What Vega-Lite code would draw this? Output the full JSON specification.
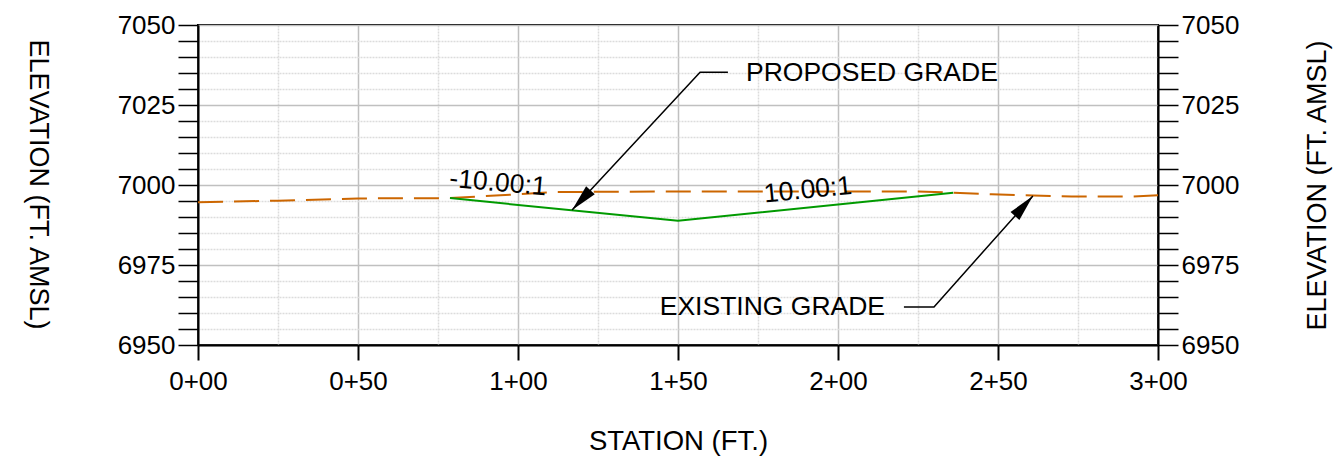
{
  "$schema": "https://vega.github.io/schema/vega-lite/v6.json",
  "width": 960,
  "height": 320,
  "autosize": "none",
  "padding": {"left": 198, "top": 25, "right": 175, "bottom": 121},
  "background": "white",
  "config": {
    "font": "Liberation Sans",
    "view": {"stroke": "black", "strokeWidth": 2},
    "text": {"font": "Liberation Sans", "fontSize": 26.5, "color": "black"}
  },
  "datasets": {
    "existing": [
      {"sta": 0, "elev": 6994.6},
      {"sta": 25, "elev": 6995.1},
      {"sta": 50, "elev": 6995.8},
      {"sta": 78.75, "elev": 6995.9},
      {"sta": 112, "elev": 6997.8},
      {"sta": 150, "elev": 6998.0},
      {"sta": 200, "elev": 6998.0},
      {"sta": 225, "elev": 6998.0},
      {"sta": 236, "elev": 6997.6},
      {"sta": 248, "elev": 6997.1},
      {"sta": 261, "elev": 6996.7},
      {"sta": 273, "elev": 6996.4},
      {"sta": 292, "elev": 6996.4},
      {"sta": 300, "elev": 6996.8}
    ],
    "proposed": [
      {"sta": 78.75, "elev": 6995.9},
      {"sta": 150, "elev": 6988.8},
      {"sta": 236, "elev": 6997.6}
    ],
    "leaders": [
      {"id": "p", "o": 1, "sta": 165.6, "elev": 7035.2},
      {"id": "p", "o": 2, "sta": 156.9, "elev": 7035.2},
      {"id": "p", "o": 3, "sta": 116.9, "elev": 6992.2},
      {"id": "e", "o": 1, "sta": 220.6, "elev": 6961.9},
      {"id": "e", "o": 2, "sta": 230, "elev": 6961.9},
      {"id": "e", "o": 3, "sta": 260.9, "elev": 6996.6}
    ],
    "tips": [
      {"id": "p", "sta": 116.9, "elev": 6992.2},
      {"id": "e", "sta": 260.9, "elev": 6996.6}
    ],
    "labels": [
      {"id": "p", "text": "PROPOSED GRADE", "sta": 171.25, "elev": 7035},
      {"id": "e", "text": "EXISTING GRADE", "sta": 214.7, "elev": 6961.9},
      {"id": "s1", "text": "-10.00:1", "sta": 93.75, "elev": 7000.6},
      {"id": "s2", "text": "10.00:1", "sta": 190.6, "elev": 6998.4}
    ]
  },
  "resolve": {"axis": {"y": "independent"}},
  "layer": [
    {
      "data": {"name": "existing"},
      "mark": {"type": "line", "color": "#cc6600", "strokeWidth": 2, "strokeDash": [25, 11]},
      "encoding": {
        "x": {
          "field": "sta", "type": "quantitative",
          "scale": {"domain": [0, 300], "nice": false, "zero": false},
          "axis": {
            "title": "STATION (FT.)",
            "values": [0, 25, 50, 75, 100, 125, 150, 175, 200, 225, 250, 275, 300],
            "labelExpr": "datum.value % 50 != 0 ? '' : floor(datum.value / 100) + '+' + (datum.value % 100 == 0 ? '00' : '' + (datum.value % 100))",
            "tickColor": {"condition": {"test": "datum.value % 50 != 0", "value": "transparent"}, "value": "black"},
            "tickSize": 15,
            "tickWidth": 2,
            "domainColor": "black",
            "domainWidth": 2,
            "grid": true,
            "gridColor": {"condition": {"test": "datum.value % 50 != 0", "value": "#dcdcdc"}, "value": "#c0c0c0"},
            "gridDash": {"condition": {"test": "datum.value % 50 != 0", "value": [2, 1]}, "value": []},
            "gridWidth": 1.5,
            "labelFontSize": 26,
            "labelColor": "black",
            "labelPadding": 8,
            "labelFlush": false,
            "labelOverlap": false,
            "labelBound": false,
            "titleFontSize": 27.5,
            "titleFontWeight": "normal",
            "titleColor": "black",
            "titleX": 480,
            "titleY": 96,
            "titleAlign": "center",
            "titleBaseline": "middle"
          }
        },
        "y": {
          "field": "elev", "type": "quantitative",
          "scale": {"domain": [6950, 7050], "nice": false, "zero": false},
          "axis": {
            "orient": "left",
            "title": "ELEVATION (FT. AMSL)",
            "values": [6950, 6955, 6960, 6965, 6970, 6975, 6980, 6985, 6990, 6995, 7000, 7005, 7010, 7015, 7020, 7025, 7030, 7035, 7040, 7045, 7050],
            "labelExpr": "datum.value % 25 == 0 ? '' + datum.value : ''",
            "tickSize": 20,
            "tickWidth": 1.5,
            "tickColor": "black",
            "domainColor": "black",
            "domainWidth": 2,
            "grid": true,
            "gridColor": {"condition": {"test": "datum.value % 25 != 0", "value": "#dcdcdc"}, "value": "#c0c0c0"},
            "gridDash": {"condition": {"test": "datum.value % 25 != 0", "value": [2, 1]}, "value": []},
            "gridWidth": 1.5,
            "labelFontSize": 26,
            "labelColor": "black",
            "labelPadding": 3,
            "labelOverlap": false,
            "labelBound": false,
            "labelFlush": false,
            "titleFontSize": 27,
            "titleFontWeight": "normal",
            "titleColor": "black",
            "titleAngle": 90,
            "titleX": -161,
            "titleY": 159,
            "titleAlign": "center",
            "titleBaseline": "middle"
          }
        }
      }
    },
    {
      "data": {"name": "proposed"},
      "mark": {"type": "line", "color": "#009a00", "strokeWidth": 2},
      "encoding": {
        "x": {"field": "sta", "type": "quantitative"},
        "y": {
          "field": "elev", "type": "quantitative",
          "axis": {
            "orient": "right",
            "title": "ELEVATION (FT. AMSL)",
            "values": [6950, 6955, 6960, 6965, 6970, 6975, 6980, 6985, 6990, 6995, 7000, 7005, 7010, 7015, 7020, 7025, 7030, 7035, 7040, 7045, 7050],
            "labelExpr": "datum.value % 25 == 0 ? '' + datum.value : ''",
            "tickSize": 20,
            "tickWidth": 1.5,
            "tickColor": "black",
            "domainColor": "black",
            "domainWidth": 2,
            "grid": false,
            "labelFontSize": 26,
            "labelColor": "black",
            "labelPadding": 3,
            "labelOverlap": false,
            "labelBound": false,
            "labelFlush": false,
            "titleFontSize": 27,
            "titleFontWeight": "normal",
            "titleColor": "black",
            "titleAngle": 270,
            "titleX": 159,
            "titleY": 160,
            "titleAlign": "center",
            "titleBaseline": "middle"
          }
        }
      }
    },
    {
      "data": {"name": "labels"},
      "transform": [{"filter": "datum.id == 'p'"}],
      "mark": {"type": "text", "align": "left", "baseline": "middle", "fontSize": 26.5},
      "encoding": {
        "x": {"field": "sta", "type": "quantitative"},
        "y": {"field": "elev", "type": "quantitative", "axis": null},
        "text": {"field": "text"}
      }
    },
    {
      "data": {"name": "labels"},
      "transform": [{"filter": "datum.id == 'e'"}],
      "mark": {"type": "text", "align": "right", "baseline": "middle", "fontSize": 26.5},
      "encoding": {
        "x": {"field": "sta", "type": "quantitative"},
        "y": {"field": "elev", "type": "quantitative", "axis": null},
        "text": {"field": "text"}
      }
    },
    {
      "data": {"name": "labels"},
      "transform": [{"filter": "datum.id == 's1'"}],
      "mark": {"type": "text", "align": "center", "baseline": "middle", "fontSize": 26.5, "angle": 5},
      "encoding": {
        "x": {"field": "sta", "type": "quantitative"},
        "y": {"field": "elev", "type": "quantitative", "axis": null},
        "text": {"field": "text"}
      }
    },
    {
      "data": {"name": "labels"},
      "transform": [{"filter": "datum.id == 's2'"}],
      "mark": {"type": "text", "align": "center", "baseline": "middle", "fontSize": 26.5, "angle": 354.3},
      "encoding": {
        "x": {"field": "sta", "type": "quantitative"},
        "y": {"field": "elev", "type": "quantitative", "axis": null},
        "text": {"field": "text"}
      }
    },
    {
      "data": {"name": "leaders"},
      "mark": {"type": "line", "color": "black", "strokeWidth": 1.5},
      "encoding": {
        "x": {"field": "sta", "type": "quantitative"},
        "y": {"field": "elev", "type": "quantitative", "axis": null},
        "detail": {"field": "id"},
        "order": {"field": "o", "type": "quantitative"}
      }
    },
    {
      "data": {"name": "tips"},
      "transform": [{"filter": "datum.id == 'p'"}],
      "mark": {"type": "point", "shape": "M0,0L-0.22,1L0.22,1Z", "filled": true, "color": "black", "opacity": 1, "size": 2900, "angle": 223},
      "encoding": {
        "x": {"field": "sta", "type": "quantitative"},
        "y": {"field": "elev", "type": "quantitative", "axis": null}
      }
    },
    {
      "data": {"name": "tips"},
      "transform": [{"filter": "datum.id == 'e'"}],
      "mark": {"type": "point", "shape": "M0,0L-0.22,1L0.22,1Z", "filled": true, "color": "black", "opacity": 1, "size": 2900, "angle": 41.7},
      "encoding": {
        "x": {"field": "sta", "type": "quantitative"},
        "y": {"field": "elev", "type": "quantitative", "axis": null}
      }
    }
  ]
}
